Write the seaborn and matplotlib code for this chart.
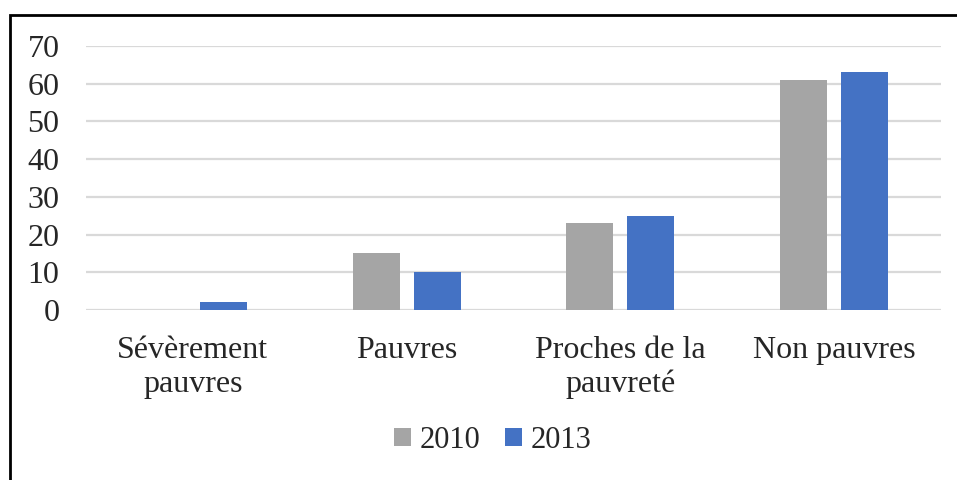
import matplotlib
matplotlib.use("Agg")
import matplotlib.pyplot as plt
import matplotlib.patches as mpatches
import seaborn as sns
import pandas as pd

categories = ["Sévèrement\npauvres", "Pauvres", "Proches de la\npauvreté", "Non pauvres"]
years = ["2010", "2013"]
values_2010 = [0, 15, 23, 61]
values_2013 = [2, 10, 25, 63]
y_ticks = [0, 10, 20, 30, 40, 50, 60, 70]

colors = {"2010": "#A5A5A5", "2013": "#4472C4"}

df = pd.DataFrame({
    "categorie": categories * 2,
    "annee": [years[0]] * len(categories) + [years[1]] * len(categories),
    "valeur": values_2010 + values_2013,
})

sns.set_style("white")
plt.rcParams["font.family"] = ["Liberation Serif", "DejaVu Serif"]
plt.rcParams["font.size"] = 23

fig = plt.figure(figsize=(9.57, 4.8), dpi=100)
ax = fig.add_axes([86 / 957, 1 - 310 / 480, (941 - 86) / 957, (310 - 46) / 480])

sns.barplot(data=df, x="categorie", y="valeur", hue="annee", order=categories,
            hue_order=years, palette=colors, width=0.57, gap=0.228,
            linewidth=0, saturation=1, ax=ax, legend=False, zorder=3)

ax.set_ylim(0, 70)
ax.set_yticks(y_ticks)
ax.set_xlim(-0.5, len(categories) - 0.5)
ax.yaxis.grid(True, color="#D9D9D9", linewidth=1.6, zorder=0)
ax.xaxis.grid(False)
for s in ax.spines.values():
    s.set_visible(False)
ax.tick_params(axis="y", length=0, pad=19, labelsize=23)
ax.tick_params(axis="x", length=0, pad=19, labelsize=23)
for lab in ax.get_xticklabels():
    lab.set_linespacing(1.2)
ax.set_xlabel("")
ax.set_ylabel("")

handles = [mpatches.Patch(facecolor=colors[y], edgecolor="none", label=y) for y in years]
fig.legend(handles=handles, loc="center", bbox_to_anchor=(0.515, 0.083), ncol=2,
           frameon=False, handlelength=0.55, handleheight=0.55, handletextpad=0.3,
           columnspacing=0.8, fontsize=22)

# outer frame of the chart
frame = mpatches.Rectangle((10 / 957, -0.2), 1.2, 1.2 - 15 / 480, transform=fig.transFigure,
                           fill=False, edgecolor="black", linewidth=2.0)
fig.patches.append(frame)

fig.savefig("out.png", dpi=100, facecolor="white")
